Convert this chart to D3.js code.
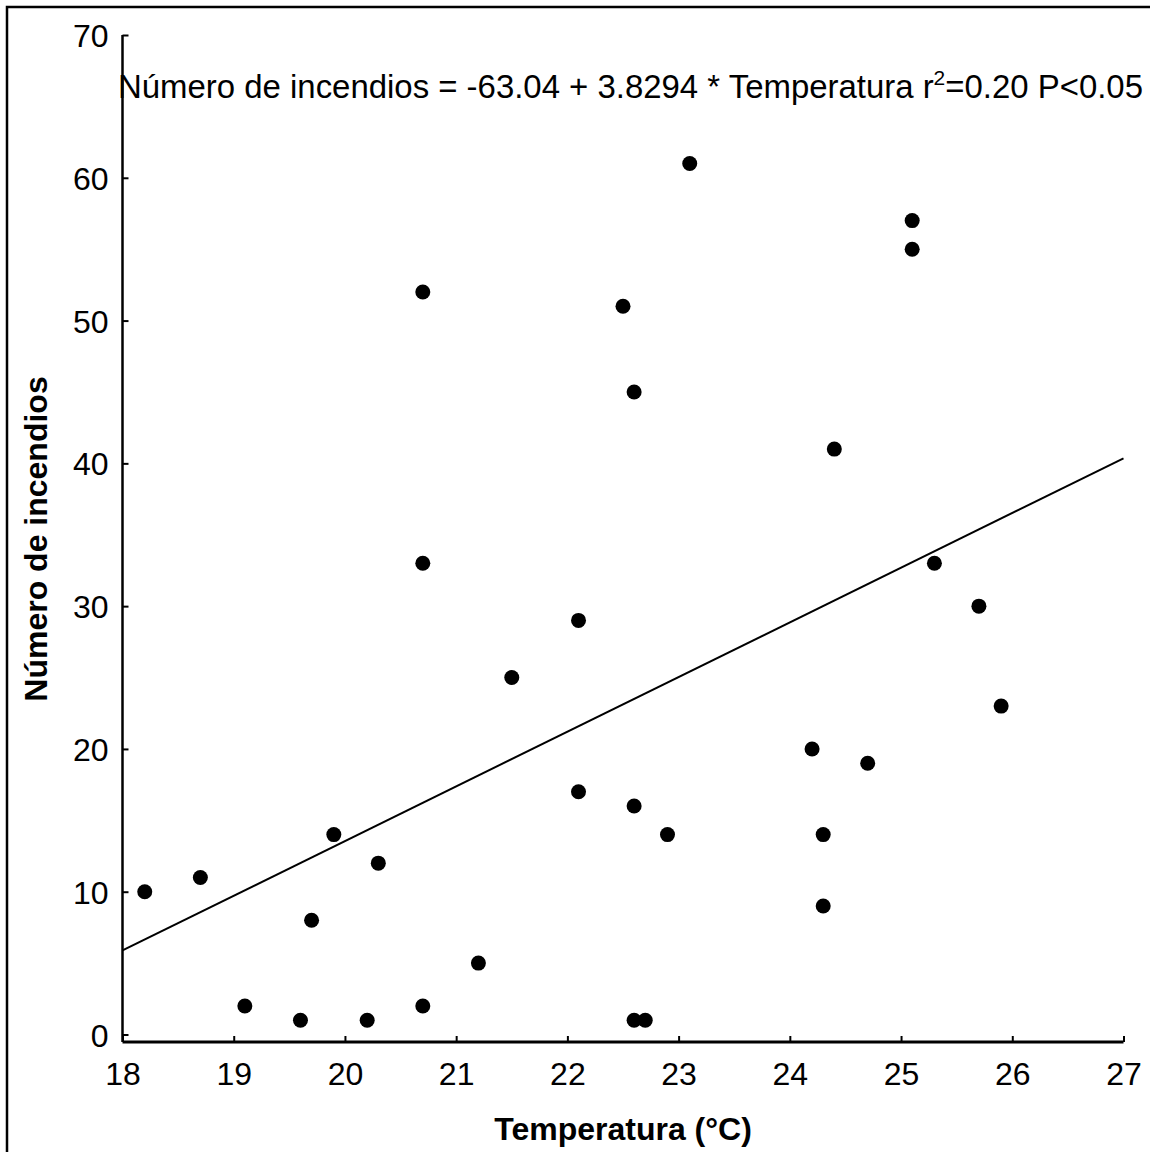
<!DOCTYPE html>
<html>
<head>
<meta charset="utf-8">
<script src="https://cdn.jsdelivr.net/npm/d3@7"></script>
<style>
  body { margin: 0; background: #fff; }
  svg { display: block; }
  text { font-family: "Liberation Sans", Arial, sans-serif; fill: #000; }
</style>
</head>
<body>
<svg id="chart" width="1150" height="1152"></svg>
<script>
// Data
const temperatura = [18.2, 18.7, 19.1, 19.6, 19.7, 19.9, 20.2, 20.3, 20.7, 20.7, 20.7, 21.2, 21.5, 22.1, 22.1, 22.5, 22.6, 22.6, 22.6, 22.7, 22.9, 23.1, 24.2, 24.3, 24.3, 24.4, 24.7, 25.1, 25.1, 25.3, 25.7, 25.9];
const incendios   = [10, 11, 2, 1, 8, 14, 1, 12, 2, 33, 52, 5, 25, 29, 17, 51, 45, 16, 1, 1, 14, 61, 20, 14, 9, 41, 19, 57, 55, 33, 30, 23];
const xTicks = [18, 19, 20, 21, 22, 23, 24, 25, 26, 27];
const yTicks = [0, 10, 20, 30, 40, 50, 60, 70];
const intercept = -63.04;
const slope = 3.8294;
const xLabel = "Temperatura (°C)";
const yLabel = "Número de incendios";

const svg = d3.select("#chart");

// outer frame (right/bottom edges fall outside the picture)
svg.append("rect").attr("x", 7).attr("y", 7).attr("width", 1160).attr("height", 1160)
  .attr("fill", "none").attr("stroke", "#000").attr("stroke-width", 2.5);

const x = d3.scaleLinear().domain([18, 27]).range([122.5, 1123.5]);
const y = d3.scaleLinear().domain([0, 70]).range([1034.5, 35]);
const yBottom = 1042;

// axes
const xAxis = d3.axisBottom(x).tickValues(xTicks).tickSizeInner(-6).tickSizeOuter(0).tickPadding(20);
const gx = svg.append("g").attr("transform", `translate(0,${yBottom})`).call(xAxis);
gx.select(".domain").remove();
gx.append("line").attr("x1", 122.5).attr("x2", 1123.5).attr("y1", 0).attr("y2", 0)
  .attr("stroke", "#000").attr("stroke-width", 3);
gx.selectAll(".tick line").attr("stroke-width", 2);
gx.selectAll(".tick text").attr("font-size", 32).attr("dy", "0.71em")
  .style("font-family", '"Liberation Sans", Arial, sans-serif');

const yAxis = d3.axisLeft(y).tickValues(yTicks).tickSizeInner(-6).tickSizeOuter(0).tickPadding(14);
const gy = svg.append("g").attr("transform", `translate(122.5,0)`).call(yAxis);
gy.select(".domain").remove();
gy.append("line").attr("x1", 0).attr("x2", 0).attr("y1", y(70)).attr("y2", yBottom)
  .attr("stroke", "#000").attr("stroke-width", 2.5);
gy.selectAll(".tick line").attr("stroke-width", 2);
gy.selectAll(".tick text").attr("font-size", 32).attr("dy", "0.36em")
  .style("font-family", '"Liberation Sans", Arial, sans-serif');

// regression line
const line = d3.line().x(d => x(d)).y(d => y(intercept + slope * d));
svg.append("path").datum([18, 27]).attr("d", line)
  .attr("fill", "none").attr("stroke", "#000").attr("stroke-width", 2);

// points
svg.append("g").selectAll("circle").data(temperatura.map((t, i) => [t, incendios[i]]))
  .join("circle")
  .attr("cx", d => x(d[0])).attr("cy", d => y(d[1])).attr("r", 7.5).attr("fill", "#000");

// equation text
const eq = svg.append("text").attr("x", 118).attr("y", 98).attr("font-size", 33)
  .attr("textLength", 1025).attr("lengthAdjust", "spacingAndGlyphs");
eq.append("tspan").text("Número de incendios = -63.04 + 3.8294 * Temperatura r");
eq.append("tspan").attr("dy", -13).attr("font-size", 21).text("2");
eq.append("tspan").attr("dy", 13).text("=0.20 P<0.05");

// axis titles
svg.append("text").attr("x", 623).attr("y", 1140).attr("text-anchor", "middle")
  .attr("font-size", 32).attr("font-weight", "bold").text(xLabel);
svg.append("text").attr("transform", "translate(47,539) rotate(-90)").attr("text-anchor", "middle")
  .attr("font-size", 32).attr("font-weight", "bold").text(yLabel);
</script>
</body>
</html>
